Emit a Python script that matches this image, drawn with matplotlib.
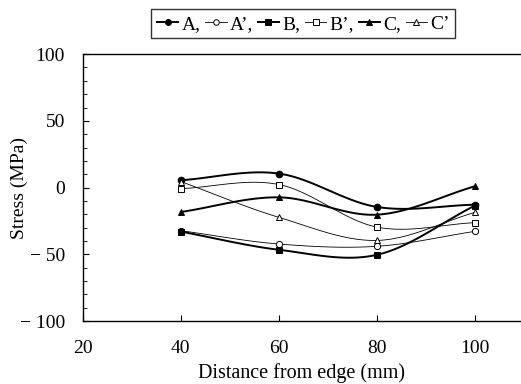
import numpy as np
import matplotlib
matplotlib.use("Agg")
import matplotlib.pyplot as plt
from matplotlib.lines import Line2D

plt.rcParams['font.family'] = ['Liberation Serif', 'DejaVu Serif']

distance = [40, 60, 80, 100]
A = [5.5, 10.5, -14.5, -12.8]
A_p = [-32.3, -42.3, -44.0, -32.8]
B = [-33.0, -46.6, -50.4, -13.5]
B_p = [-0.8, 2.3, -29.6, -26.3]
C = [-18.3, -7.3, -20.3, 1.0]
C_p = [4.5, -22.3, -39.6, -18.6]

labels = ["A,", "A’,", "B,", "B’,", "C,", "C’"]
series = [A, A_p, B, B_p, C, C_p]
markers = ['o', 'o', 's', 's', '^', '^']
filled = [True, False, True, False, True, False]
xtick_vals = [20, 40, 60, 80, 100]
ytick_vals = [-100, -50, 0, 50, 100]
ytick_labels = ['− 100', '− 50', '0', '50', '100']


def smooth(x, y, n=30):
    """Catmull-Rom smoothing of the drawn path (display only)."""
    x = np.asarray(x, float)
    y = np.asarray(y, float)
    P = np.column_stack([x, y])
    P = np.vstack([2 * P[0] - P[1], P, 2 * P[-1] - P[-2]])
    out = []
    for i in range(1, len(P) - 2):
        p0, p1, p2, p3 = P[i - 1], P[i], P[i + 1], P[i + 2]
        t = np.linspace(0, 1, n)[:, None]
        seg = 0.5 * ((2 * p1) + (-p0 + p2) * t + (2 * p0 - 5 * p1 + 4 * p2 - p3) * t ** 2
                     + (-p0 + 3 * p1 - 3 * p2 + p3) * t ** 3)
        out.append(seg if i == 1 else seg[1:])
    out = np.vstack(out)
    return out[:, 0], out[:, 1]


fig = plt.figure(figsize=(5.21, 3.84), dpi=100)
ax = fig.add_axes([0.159, 0.164, 0.841, 0.695])

handles = []
for vals, lab, m, f in zip(series, labels, markers, filled):
    lw = 1.4 if f else 0.6
    sx, sy = smooth(distance, vals)
    ax.plot(sx, sy, color='black', lw=lw, zorder=2)
    ms = 4.8 if f else 4.5
    ax.plot(distance, vals, linestyle='none', marker=m, markersize=ms,
            markerfacecolor='black' if f else 'white', markeredgecolor='black',
            markeredgewidth=0.7, zorder=3)
    handles.append(Line2D([], [], color='black', lw=lw, marker=m, markersize=ms - 0.5,
                          markerfacecolor='black' if f else 'white',
                          markeredgecolor='black', markeredgewidth=0.7, label=lab))

ax.set_xlim(20, 109.4)
ax.set_ylim(-100, 100)
ax.set_xticks(xtick_vals)
ax.set_yticks(ytick_vals)
ax.set_yticks(np.arange(-100, 101, 10), minor=True)
ax.set_yticklabels(ytick_labels)
ax.tick_params(axis='both', direction='in', labelsize=14, length=4, width=0.8)
ax.tick_params(axis='y', which='minor', direction='in', length=3, width=0.6)
ax.tick_params(axis='x', pad=14)
ax.tick_params(axis='y', pad=13)
ax.spines['right'].set_visible(False)
for s in ['left', 'bottom', 'top']:
    ax.spines[s].set_linewidth(1.0)

ax.set_xlabel('Distance from edge (mm)', fontsize=14.5, labelpad=4)
ax.set_ylabel('Stress (MPa)', fontsize=14, labelpad=-6)

leg = fig.legend(handles=handles, loc='center', bbox_to_anchor=(0.582, 0.938),
                 ncol=6, frameon=True, fontsize=14, handlelength=1.1,
                 handletextpad=0.15, columnspacing=0.25, borderpad=0.3,
                 fancybox=False, edgecolor='black', borderaxespad=0)
leg.get_frame().set_linewidth(1.0)

fig.savefig('out.png', dpi=100)
